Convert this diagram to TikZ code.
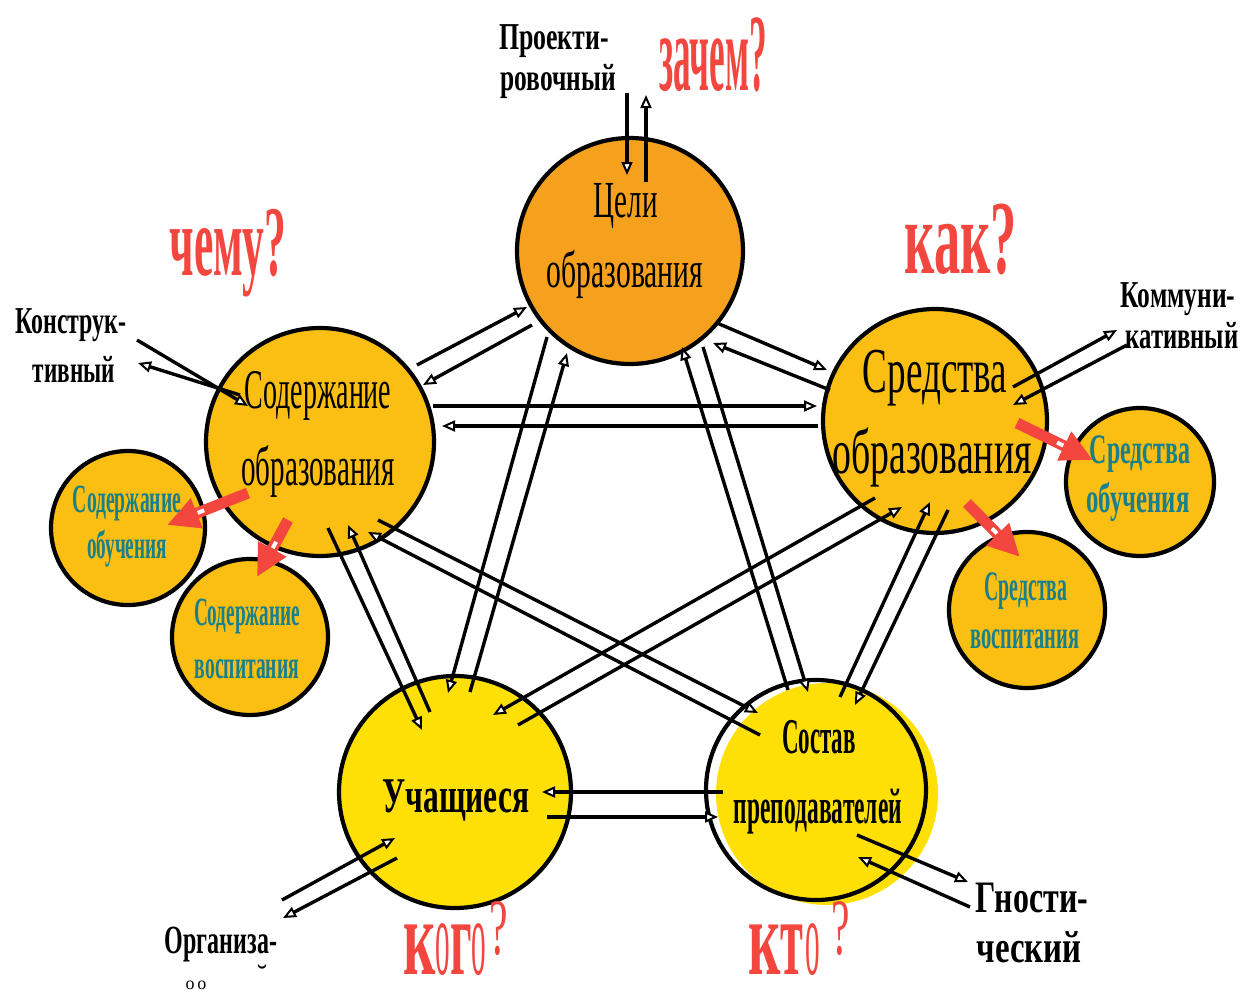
\documentclass[tikz,border=0pt]{standalone}
\usepackage{fontspec}
\setmainfont{Liberation Serif}
\usepackage{graphicx}
\usetikzlibrary{arrows.meta,calc}
\definecolor{cOr}{HTML}{F6A11E}
\definecolor{cGo}{HTML}{FBBE12}
\definecolor{cYe}{HTML}{FFE006}
\definecolor{cRed}{HTML}{F2463E}
\definecolor{cTeal}{HTML}{17808C}
\newcommand{\sx}[2]{\scalebox{#1}[1]{#2}}
\newcommand{\fs}[1]{\fontsize{#1}{#1}\selectfont}
\tikzset{
  big/.style={circle, draw=black, line width=4.2pt, inner sep=0pt, minimum size=#1},
  arr/.style={line width=3.4pt, -{Triangle[open, fill=white, length=13pt, width=11pt, line width=2pt]}},
  redarr/.style={cRed, line width=11pt, -{Triangle[length=32pt, width=30pt]}},
  notch/.style={white, line width=4pt},
  lbl/.style={inner sep=0pt, anchor=base},
  inner/.style={lbl, font=\fs{40}\bfseries, text=cTeal},
  ext/.style={lbl, font=\fs{38}\bfseries},
  q/.style={lbl, text=cRed}
}
\begin{document}
\begin{tikzpicture}[x=1pt, y=-1pt]
\fill[white] (0,0) rectangle (1248,998);
\path[use as bounding box] (0,0) rectangle (1248,998);

% circles
\node[big=226pt, fill=cOr] (C) at (630,251) {};
\node[big=228pt, fill=cGo] (S) at (320,442) {};
\node[big=224pt, fill=cGo] (M) at (935,421) {};
\node[big=232pt, fill=cYe] (U) at (455,792) {};
\node[circle, fill=cYe, inner sep=0pt, minimum size=222pt] (Pf) at (827,794) {};
\node[big=220pt] (P) at (816,790) {};
\node[big=154pt, fill=cGo] (SO) at (128,528) {};
\node[big=156pt, fill=cGo] (SV) at (250,637) {};
\node[big=148pt, fill=cGo] (MO) at (1140,482) {};
\node[big=156pt, fill=cGo] (MV) at (1027,610) {};

% connectors between the five circles
\draw[arr] ([shift={(97,-77)}]S.center) -- ([shift={(-103,56)}]C.center);
\draw[arr] ([shift={(-98,74)}]C.center) -- ([shift={(103,-57)}]S.center);
\draw[arr] ([shift={(87,72)}]C.center) -- ([shift={(-108,-51)}]M.center);
\draw[arr] ([shift={(-105,-31)}]M.center) -- ([shift={(83,92)}]C.center);
\draw[arr] ([shift={(113,-36)}]S.center) -- ([shift={(-118,-15)}]M.center);
\draw[arr] ([shift={(-117,5)}]M.center) -- ([shift={(122,-16)}]S.center);
\draw[arr] ([shift={(-83,86)}]C.center) -- ([shift={(-7,-99)}]U.center);
\draw[arr] ([shift={(15,-100)}]U.center) -- ([shift={(-63,102)}]C.center);
\draw[arr] ([shift={(-28,-100)}]P.center) -- ([shift={(52,96)}]C.center);
\draw[arr] ([shift={(73,96)}]C.center) -- ([shift={(-8,-98)}]P.center);
\draw[arr] ([shift={(8,86)}]S.center) -- ([shift={(-33,-62)}]U.center);
\draw[arr] ([shift={(-25,-80)}]U.center) -- ([shift={(28,83)}]S.center);
\draw[arr] ([shift={(58,78)}]S.center) -- ([shift={(-58,-77)}]P.center);
\draw[arr] ([shift={(-56,-55)}]P.center) -- ([shift={(48,90)}]S.center);
\draw[arr] ([shift={(-60,77)}]M.center) -- ([shift={(38,-77)}]U.center);
\draw[arr] ([shift={(63,-67)}]U.center) -- ([shift={(-33,86)}]M.center);
\draw[arr] ([shift={(24,-93)}]P.center) -- ([shift={(-5,81)}]M.center);
\draw[arr] ([shift={(13,89)}]M.center) -- ([shift={(39,-85)}]P.center);
\draw[arr] ([shift={(-93,2)}]P.center) -- ([shift={(87,0)}]U.center);
\draw[arr] ([shift={(92,25)}]U.center) -- ([shift={(-98,27)}]P.center);

% external connectors
\coordinate (pr1) at (627,93);
\coordinate (pr2) at (646,95);
\coordinate (k1) at (137,340);
\coordinate (k2) at (138,363);
\coordinate (km1) at (1117,330);
\coordinate (km2) at (1127,345);
\coordinate (g1) at (968,882);
\coordinate (g2) at (970,907);
\coordinate (o1) at (282,900);
\coordinate (o2) at (283,918);
\draw[arr] (pr1) -- ([shift={(-3,-76)}]C.center);
\draw[arr] ([shift={(16,-69)}]C.center) -- (pr2);
\draw[arr] (k1) -- ([shift={(-72,-36)}]S.center);
\draw[arr] ([shift={(-80,-47)}]S.center) -- (k2);
\draw[arr] ([shift={(78,-34)}]M.center) -- (km1);
\draw[arr] (km2) -- ([shift={(78,-16)}]M.center);
\draw[arr] ([shift={(41,45)}]P.center) -- (g1);
\draw[arr] (g2) -- ([shift={(42,67)}]P.center);
\draw[arr] (o1) -- ([shift={(-60,46)}]U.center);
\draw[arr] ([shift={(-58,66)}]U.center) -- (o2);

% red arrows
\coordinate (r1a) at ([shift={(-72,51)}]S.center);
\coordinate (r1t) at ([shift={(39,-3)}]SO.center);
\coordinate (r2a) at ([shift={(-32,78)}]S.center);
\coordinate (r2t) at ([shift={(7,-60)}]SV.center);
\coordinate (r3a) at ([shift={(82,2)}]M.center);
\coordinate (r3t) at ([shift={(-47,-22)}]MO.center);
\coordinate (r4a) at ([shift={(32,82)}]M.center);
\coordinate (r4t) at ([shift={(-7,-53)}]MV.center);
\draw[redarr] (r1a) -- (r1t);
\draw[redarr] (r2a) -- (r2t);
\draw[redarr] (r3a) -- (r3t);
\draw[redarr] (r4a) -- (r4t);
\draw[notch] ($(r1t)!33pt!(r1a)$) -- ($(r1t)!40pt!(r1a)$);
\draw[notch] ($(r2t)!33pt!(r2a)$) -- ($(r2t)!40pt!(r2a)$);
\draw[notch] ($(r3t)!33pt!(r3a)$) -- ($(r3t)!40pt!(r3a)$);
\draw[notch] ($(r4t)!33pt!(r4a)$) -- ($(r4t)!40pt!(r4a)$);

% circle texts
\node[lbl, font=\fs{52}] (tC1) at (626,217) {\sx{0.56}{Цели}};
\node[lbl, font=\fs{52}] (tC2) at (625,287) {\sx{0.57}{образования}};
\node[lbl, font=\fs{56}] (tS1) at (318,408) {\sx{0.5}{Содержание}};
\node[lbl, font=\fs{56}] (tS2) at (318,485) {\sx{0.52}{образования}};
\node[lbl, font=\fs{64}] (tM1) at (935,392) {\sx{0.58}{Средства}};
\node[lbl, font=\fs{64}] (tM2) at (932,473) {\sx{0.59}{образования}};
\node[lbl, font=\fs{50}\bfseries] (tU) at (456,812) {\sx{0.63}{Учащиеся}};
\node[lbl, font=\fs{50}\bfseries] (tP1) at (819,753) {\sx{0.46}{Состав}};
\node[lbl, font=\fs{50}\bfseries] (tP2) at (818,823) {\sx{0.47}{преподавателей}};

% small circle texts
\node[inner] (tSO1) at (127,512) {\sx{0.49}{Содержание}};
\node[inner] (tSO2) at (127,558) {\sx{0.48}{обучения}};
\node[inner] (tSV1) at (247,625) {\sx{0.48}{Содержание}};
\node[inner] (tSV2) at (247,678) {\sx{0.49}{воспитания}};
\node[inner, font=\fs{42}\bfseries] (tMO1) at (1140,463) {\sx{0.57}{Средства}};
\node[inner, font=\fs{42}\bfseries] (tMO2) at (1138,512) {\sx{0.59}{обучения}};
\node[inner, font=\fs{42}\bfseries] (tMV1) at (1026,600) {\sx{0.47}{Средства}};
\node[inner] (tMV2) at (1025,648) {\sx{0.51}{воспитания}};

% external labels
\node[ext] (e1) at (554,50) {\sx{0.68}{Проекти-}};
\node[ext] (e2) at (558,90) {\sx{0.67}{ровочный}};
\node[ext] (e3) at (71,333) {\sx{0.63}{Конструк-}};
\node[ext] (e4) at (74,382) {\sx{0.61}{тивный}};
\node[ext] (e5) at (1178,307) {\sx{0.67}{Коммуни-}};
\node[ext] (e6) at (1182,348) {\sx{0.65}{кативный}};
\node[ext, font=\fs{45}\bfseries] (e7) at (1032,912) {\sx{0.71}{Гности-}};
\node[ext, font=\fs{45}\bfseries] (e8) at (1029,962) {\sx{0.73}{ческий}};
\node[ext, font=\fs{40}\bfseries] (e9) at (221,953) {\sx{0.6}{Организа-}};
\node[lbl, font=\fs{18}] (e10) at (196,989) {о\,о};
\node[lbl, font=\fs{30}] (e11) at (262,985) {˘};

% question words
\node[q, font=\fs{110}\bfseries] (q1) at (713,90) {\sx{0.32}{зачем?}};
\node[q, font=\fs{100}\bfseries] (q2) at (228,275) {\sx{0.435}{чему?}};
\node[q, font=\fs{105}\bfseries] (q3) at (961,273) {\sx{0.5}{как?}};
\node[q, anchor=base west] (q4) at (403,974) {\fs{108}\bfseries\sx{0.52}{к}\mdseries\sx{0.27}{о}\bfseries\sx{0.44}{г}\mdseries\sx{0.27}{о}\hspace{3pt}\raisebox{20pt}{\fs{80}\sx{0.52}{?}}};
\node[q, anchor=base west] (q5) at (748,974) {\fs{108}\bfseries\sx{0.52}{к}\sx{0.43}{т}\mdseries\hspace{2pt}\sx{0.27}{о}\hspace{12pt}\raisebox{20pt}{\fs{80}\sx{0.52}{?}}};
\end{tikzpicture}
\end{document}
